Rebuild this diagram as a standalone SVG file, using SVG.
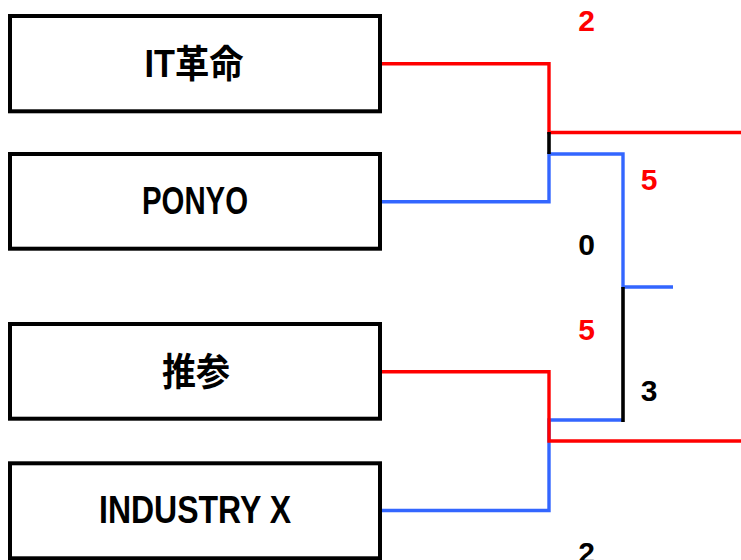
<svg xmlns="http://www.w3.org/2000/svg" width="741" height="560" viewBox="0 0 741 560">
<style>
.box{fill:#fff;stroke:#000;stroke-width:4}
.lbl{font-family:"Liberation Sans","Noto Sans CJK JP",sans-serif;font-weight:bold;font-size:38px;fill:#000;text-anchor:middle}
.num{font-family:"Liberation Sans",sans-serif;font-weight:bold;font-size:30px;text-anchor:middle}
.r{stroke:#ff0000;stroke-width:3.4;fill:none}
.b{stroke:#3366ff;stroke-width:3.4;fill:none}
.k{stroke:#000;stroke-width:3.6;fill:none}
</style>
<rect width="741" height="560" fill="#fff"/>
<g id="connectors">
<polyline class="b" points="382,201.7 549,201.7 549,154 623,154 623,287 673,287"/>
<polyline class="b" points="382,510.5 549,510.5 549,420 623,420"/>
<polyline class="r" points="382,63.7 549,63.7 549,132.5 741,132.5"/>
<polyline class="r" points="382,371.7 549,371.7 549,441 741,441"/>
<line class="k" x1="549" y1="132" x2="549" y2="154"/>
<line class="k" x1="623" y1="287" x2="623" y2="422"/>
</g>
<g id="node-it"><rect class="box" x="10" y="16" width="370" height="95.3"/><text class="lbl" x="194" y="77" textLength="99" lengthAdjust="spacingAndGlyphs">IT革命</text></g>
<g id="node-ponyo"><rect class="box" x="10" y="154" width="370" height="94.7"/><text class="lbl" x="195" y="214" textLength="106" lengthAdjust="spacingAndGlyphs">PONYO</text></g>
<g id="node-suisan"><rect class="box" x="10" y="324" width="370" height="94.7"/><text class="lbl" x="196" y="385" textLength="68" lengthAdjust="spacingAndGlyphs">推参</text></g>
<g id="node-industry"><rect class="box" x="10" y="463.3" width="370" height="95"/><text class="lbl" x="195" y="523" textLength="192" lengthAdjust="spacingAndGlyphs">INDUSTRY X</text></g>
<g id="scores">
<text class="num" x="586.5" y="31" fill="#ff0000">2</text>
<text class="num" x="649" y="190" fill="#ff0000">5</text>
<text class="num" x="586.5" y="255" fill="#000">0</text>
<text class="num" x="586.5" y="340" fill="#ff0000">5</text>
<text class="num" x="649" y="401" fill="#000">3</text>
<text class="num" x="586.5" y="563" fill="#000">2</text>
</g>
</svg>
